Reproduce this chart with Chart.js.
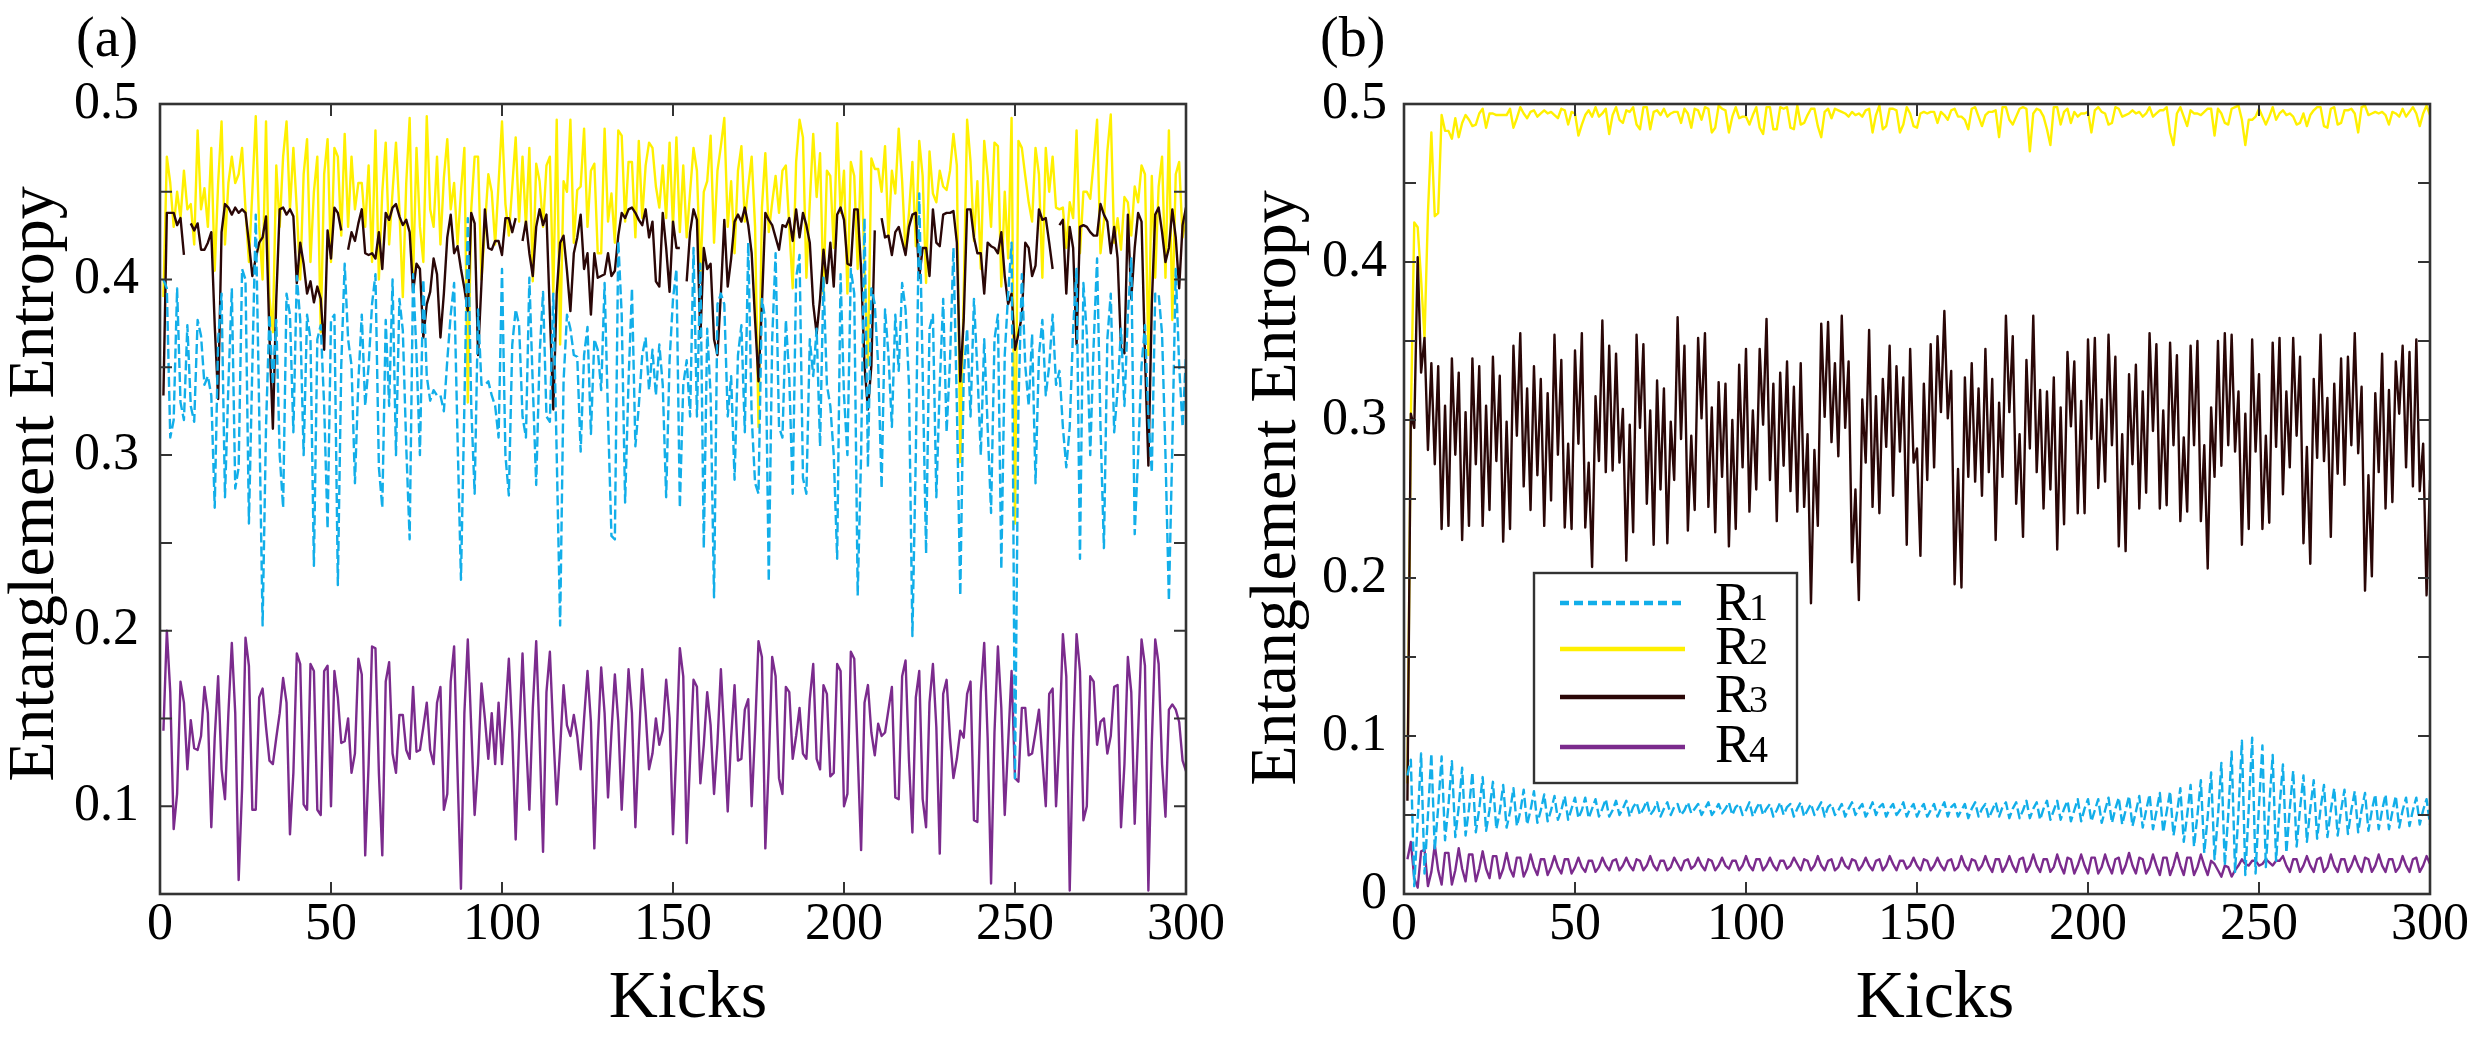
<!DOCTYPE html>
<html>
<head>
<meta charset="utf-8">
<script src="https://cdn.jsdelivr.net/npm/chart.js@4.4.1/dist/chart.umd.min.js"></script>
<style>
  html, body { margin: 0; padding: 0; background: #fff; }
  #wrap { position: relative; width: 2477px; height: 1038px; background: #fff; overflow: hidden; }
  canvas { position: absolute; top: 0; }
  #panelA { left: 0; }
  #panelB { left: 1240px; }
</style>
</head>
<body>
<div id="wrap">
  <canvas id="panelA" width="1240" height="1038"></canvas>
  <canvas id="panelB" width="1237" height="1038"></canvas>
</div>
<script>
// --- data (one value per kick, kick 1..300) ---
const seriesNames = ["R1", "R2", "R3", "R4"];
const xTicks = [0, 50, 100, 150, 200, 250, 300];
const yTicksA = [0.05, 0.1, 0.15, 0.2, 0.25, 0.3, 0.35, 0.4, 0.45, 0.5];
const yLabelsA = ["", "0.1", "", "0.2", "", "0.3", "", "0.4", "", "0.5"];
const yTicksB = [0, 0.05, 0.1, 0.15, 0.2, 0.25, 0.3, 0.35, 0.4, 0.45, 0.5];
const yLabelsB = ["0", "", "0.1", "", "0.2", "", "0.3", "", "0.4", "", "0.5"];

// panel (a)
const r1a = [
  0.40, 0.395, 0.31, 0.32, 0.395, 0.33, 0.32, 0.374, 0.328, 0.319,
  0.377, 0.368, 0.34, 0.345, 0.334, 0.27, 0.366, 0.392, 0.276, 0.34,
  0.395, 0.281, 0.293, 0.406, 0.40, 0.261, 0.351, 0.437, 0.325, 0.203,
  0.316, 0.38, 0.34, 0.377, 0.30, 0.27, 0.392, 0.38, 0.313, 0.402,
  0.377, 0.30, 0.38, 0.366, 0.237, 0.366, 0.374, 0.328, 0.258, 0.377,
  0.38, 0.226, 0.351, 0.409, 0.366, 0.351, 0.284, 0.342, 0.38, 0.328,
  0.351, 0.386, 0.403, 0.293, 0.27, 0.377, 0.328, 0.40, 0.30, 0.389,
  0.371, 0.305, 0.252, 0.403, 0.357, 0.30, 0.40, 0.345, 0.331, 0.337,
  0.334, 0.334, 0.325, 0.354, 0.38, 0.398, 0.31, 0.229, 0.328, 0.435,
  0.328, 0.278, 0.383, 0.34, 0.34, 0.342, 0.334, 0.328, 0.31, 0.406,
  0.30, 0.277, 0.363, 0.383, 0.374, 0.322, 0.31, 0.401, 0.34, 0.283,
  0.357, 0.393, 0.322, 0.319, 0.392, 0.30, 0.203, 0.342, 0.38, 0.372,
  0.357, 0.356, 0.302, 0.357, 0.373, 0.312, 0.366, 0.36, 0.337, 0.398,
  0.322, 0.254, 0.252, 0.422, 0.38, 0.273, 0.342, 0.395, 0.305, 0.328,
  0.357, 0.367, 0.337, 0.36, 0.334, 0.363, 0.34, 0.276, 0.354, 0.389,
  0.406, 0.27, 0.34, 0.354, 0.322, 0.418, 0.322, 0.409, 0.247, 0.372,
  0.334, 0.219, 0.386, 0.392, 0.386, 0.322, 0.345, 0.286, 0.357, 0.374,
  0.313, 0.421, 0.322, 0.284, 0.278, 0.389, 0.377, 0.228, 0.366, 0.415,
  0.316, 0.31, 0.377, 0.344, 0.278, 0.401, 0.414, 0.287, 0.278, 0.366,
  0.345, 0.372, 0.305, 0.401, 0.34, 0.328, 0.30, 0.241, 0.403, 0.334,
  0.30, 0.406, 0.392, 0.22, 0.30, 0.435, 0.293, 0.395, 0.386, 0.351,
  0.281, 0.383, 0.357, 0.316, 0.38, 0.348, 0.398, 0.383, 0.34, 0.197,
  0.30, 0.449, 0.348, 0.244, 0.372, 0.38, 0.276, 0.34, 0.389, 0.313,
  0.354, 0.418, 0.328, 0.22, 0.345, 0.372, 0.322, 0.389, 0.348, 0.30,
  0.366, 0.316, 0.267, 0.366, 0.38, 0.235, 0.357, 0.392, 0.421, 0.116,
  0.328, 0.403, 0.351, 0.328, 0.369, 0.284, 0.357, 0.377, 0.334, 0.351,
  0.38, 0.34, 0.348, 0.316, 0.293, 0.316, 0.372, 0.406, 0.241, 0.398,
  0.369, 0.30, 0.363, 0.412, 0.316, 0.247, 0.366, 0.392, 0.313, 0.337,
  0.372, 0.328, 0.38, 0.412, 0.255, 0.30, 0.351, 0.374, 0.322, 0.29,
  0.392, 0.392, 0.369, 0.30, 0.217, 0.305, 0.406, 0.351, 0.316, 0.357
];
const r2a = [
  0.39, 0.47, 0.455, 0.43, 0.45, 0.435, 0.462, 0.44, 0.443, 0.42,
  0.485, 0.44, 0.452, 0.43, 0.475, 0.405, 0.455, 0.49, 0.42, 0.455,
  0.47, 0.455, 0.46, 0.475, 0.44, 0.41, 0.45, 0.493, 0.43, 0.40,
  0.49, 0.39, 0.37, 0.465, 0.43, 0.47, 0.49, 0.44, 0.475, 0.44,
  0.40, 0.46, 0.48, 0.41, 0.45, 0.47, 0.37, 0.46, 0.48, 0.41,
  0.475, 0.47, 0.425, 0.483, 0.43, 0.47, 0.44, 0.455, 0.455, 0.43,
  0.465, 0.41, 0.485, 0.40, 0.45, 0.478, 0.42, 0.45, 0.478, 0.44,
  0.39, 0.455, 0.492, 0.40, 0.475, 0.43, 0.41, 0.493, 0.44, 0.43,
  0.47, 0.42, 0.458, 0.48, 0.44, 0.455, 0.42, 0.45, 0.475, 0.33,
  0.44, 0.47, 0.47, 0.40, 0.43, 0.46, 0.45, 0.42, 0.455, 0.49,
  0.443, 0.425, 0.453, 0.481, 0.433, 0.47, 0.43, 0.475, 0.399, 0.466,
  0.456, 0.43, 0.465, 0.47, 0.392, 0.491, 0.363, 0.456, 0.45, 0.491,
  0.421, 0.451, 0.453, 0.486, 0.43, 0.462, 0.466, 0.415, 0.415, 0.486,
  0.433, 0.449, 0.421, 0.485, 0.482, 0.433, 0.467, 0.467, 0.424, 0.479,
  0.435, 0.465, 0.478, 0.475, 0.453, 0.441, 0.465, 0.435, 0.478, 0.43,
  0.481, 0.427, 0.465, 0.424, 0.45, 0.475, 0.462, 0.403, 0.45, 0.456,
  0.482, 0.421, 0.462, 0.476, 0.492, 0.43, 0.456, 0.415, 0.462, 0.476,
  0.433, 0.453, 0.47, 0.43, 0.316, 0.441, 0.472, 0.427, 0.444, 0.459,
  0.438, 0.462, 0.465, 0.43, 0.395, 0.467, 0.491, 0.481, 0.401, 0.444,
  0.483, 0.447, 0.472, 0.392, 0.462, 0.459, 0.418, 0.489, 0.438, 0.462,
  0.392, 0.467, 0.459, 0.406, 0.473, 0.406, 0.351, 0.469, 0.463, 0.463,
  0.45, 0.476, 0.424, 0.462, 0.449, 0.486, 0.456, 0.415, 0.438, 0.467,
  0.419, 0.479, 0.459, 0.398, 0.473, 0.449, 0.444, 0.462, 0.453, 0.451,
  0.462, 0.483, 0.465, 0.296, 0.392, 0.491, 0.467, 0.422, 0.456, 0.406,
  0.479, 0.459, 0.43, 0.478, 0.476, 0.396, 0.45, 0.412, 0.492, 0.261,
  0.479, 0.475, 0.459, 0.444, 0.433, 0.475, 0.46, 0.401, 0.475, 0.45,
  0.47, 0.441, 0.44, 0.441, 0.418, 0.444, 0.435, 0.485, 0.415, 0.45,
  0.45, 0.446, 0.467, 0.491, 0.415, 0.433, 0.473, 0.494, 0.421, 0.435,
  0.417, 0.447, 0.444, 0.425, 0.453, 0.444, 0.465, 0.46, 0.357, 0.459,
  0.401, 0.453, 0.47, 0.401, 0.485, 0.377, 0.46, 0.467, 0.424, 0.435
];
const r3a = [
  0.334, 0.438, 0.438, 0.438, 0.431, 0.435, 0.414, null, 0.432, 0.428,
  0.432, 0.417, 0.417, 0.421, 0.427, 0.374, 0.332, 0.427, 0.443, 0.441,
  0.437, 0.441, 0.438, 0.440, 0.438, 0.421, 0.402, 0.412, 0.421, 0.424,
  0.436, 0.368, 0.315, 0.389, 0.440, 0.441, 0.437, 0.440, 0.436, 0.398,
  0.421, 0.409, 0.392, 0.399, 0.387, 0.396, 0.389, 0.360, 0.428, 0.412,
  0.441, 0.438, 0.428, null, 0.417, 0.427, 0.422, 0.432, 0.440, 0.415,
  0.414, 0.415, 0.412, 0.427, 0.406, 0.438, 0.434, 0.441, 0.443, 0.436,
  0.431, 0.434, 0.427, 0.393, 0.409, 0.406, 0.367, 0.386, 0.393, 0.412,
  0.403, 0.367, 0.392, 0.424, 0.437, 0.415, 0.419, 0.406, 0.395, 0.382,
  0.438, 0.432, 0.357, 0.398, 0.440, 0.418, 0.417, 0.422, 0.422, 0.414,
  0.435, 0.435, 0.427, 0.435, null, 0.422, 0.433, 0.415, 0.402, 0.430,
  0.440, 0.431, 0.437, 0.380, 0.326, 0.392, 0.421, 0.425, 0.405, 0.382,
  0.415, 0.424, 0.437, 0.406, 0.415, 0.380, 0.415, 0.401, 0.402, 0.403,
  0.415, 0.402, 0.405, 0.425, 0.438, 0.435, 0.440, 0.441, 0.438, 0.434,
  0.431, 0.440, 0.424, 0.433, 0.399, 0.396, 0.438, 0.418, 0.393, 0.433,
  0.418, 0.418, null, 0.399, 0.427, 0.440, 0.434, 0.367, 0.418, 0.406,
  0.409, 0.366, 0.357, 0.392, 0.434, 0.396, 0.412, 0.433, 0.437, 0.433,
  0.441, 0.431, 0.415, 0.377, 0.342, 0.386, 0.438, 0.434, 0.431, 0.424,
  0.417, 0.431, 0.430, 0.435, 0.422, 0.440, 0.424, 0.438, 0.431, 0.421,
  0.386, 0.369, 0.389, 0.417, 0.398, 0.421, 0.396, 0.437, 0.441, 0.434,
  0.409, 0.408, 0.440, 0.440, 0.406, 0.351, 0.326, 0.351, 0.428, null,
  0.435, 0.424, 0.425, 0.414, 0.427, 0.430, 0.422, 0.414, 0.430, 0.437,
  0.438, 0.401, 0.418, 0.418, 0.402, 0.440, 0.421, 0.419, 0.437, 0.438,
  0.438, 0.439, 0.421, 0.342, 0.377, 0.440, 0.440, 0.424, 0.415, 0.415,
  0.392, 0.421, 0.419, 0.418, 0.415, 0.427, 0.402, 0.386, 0.392, 0.360,
  0.369, 0.379, 0.421, 0.418, 0.402, 0.408, 0.440, 0.434, 0.435, 0.421,
  0.406, null, 0.431, 0.434, 0.392, 0.430, 0.418, 0.363, 0.430, 0.431,
  0.430, 0.427, 0.425, 0.425, 0.443, 0.437, 0.433, 0.415, 0.430, 0.412,
  0.361, 0.358, 0.437, 0.389, 0.418, 0.438, 0.433, 0.357, 0.294, 0.386,
  0.437, 0.441, 0.427, 0.410, 0.418, 0.440, 0.424, 0.395, 0.431, 0.441
];
const r4a = [
  0.143, 0.200, 0.165, 0.087, 0.107, 0.171, 0.159, 0.121, 0.149, 0.133,
  0.132, 0.140, 0.168, 0.153, 0.088, 0.139, 0.174, 0.121, 0.104, 0.153,
  0.193, 0.153, 0.058, 0.110, 0.196, 0.180, 0.098, 0.098, 0.162, 0.167,
  0.145, 0.126, 0.124, 0.139, 0.153, 0.173, 0.159, 0.084, 0.119, 0.187,
  0.181, 0.101, 0.098, 0.181, 0.177, 0.098, 0.095, 0.177, 0.180, 0.100,
  0.177, 0.162, 0.136, 0.137, 0.150, 0.119, 0.130, 0.184, 0.175, 0.072,
  0.124, 0.191, 0.190, 0.119, 0.072, 0.171, 0.182, 0.130, 0.119, 0.152,
  0.152, 0.132, 0.127, 0.168, 0.131, 0.132, 0.145, 0.159, 0.132, 0.124,
  0.159, 0.168, 0.098, 0.107, 0.171, 0.191, 0.119, 0.053, 0.153, 0.195,
  0.145, 0.095, 0.124, 0.170, 0.150, 0.127, 0.153, 0.124, 0.159, 0.124,
  0.153, 0.184, 0.142, 0.081, 0.139, 0.187, 0.139, 0.098, 0.156, 0.194,
  0.139, 0.074, 0.165, 0.188, 0.142, 0.101, 0.133, 0.169, 0.146, 0.140,
  0.152, 0.140, 0.121, 0.150, 0.177, 0.148, 0.076, 0.136, 0.179, 0.153,
  0.105, 0.142, 0.175, 0.148, 0.098, 0.139, 0.178, 0.153, 0.088, 0.136,
  0.178, 0.153, 0.121, 0.130, 0.150, 0.135, 0.143, 0.172, 0.150, 0.084,
  0.133, 0.190, 0.174, 0.079, 0.127, 0.172, 0.168, 0.113, 0.135, 0.165,
  0.146, 0.107, 0.136, 0.178, 0.140, 0.097, 0.139, 0.169, 0.126, 0.127,
  0.155, 0.161, 0.100, 0.143, 0.194, 0.185, 0.076, 0.124, 0.185, 0.174,
  0.116, 0.107, 0.168, 0.165, 0.127, 0.140, 0.156, 0.130, 0.127, 0.161,
  0.181, 0.127, 0.121, 0.169, 0.164, 0.117, 0.119, 0.181, 0.177, 0.100,
  0.107, 0.188, 0.184, 0.130, 0.075, 0.159, 0.169, 0.142, 0.129, 0.147,
  0.140, 0.142, 0.155, 0.168, 0.105, 0.104, 0.174, 0.183, 0.126, 0.085,
  0.162, 0.177, 0.104, 0.088, 0.159, 0.181, 0.145, 0.073, 0.164, 0.172,
  0.139, 0.116, 0.127, 0.143, 0.139, 0.164, 0.171, 0.092, 0.091, 0.165,
  0.193, 0.139, 0.056, 0.142, 0.191, 0.156, 0.095, 0.136, 0.177, 0.116,
  0.114, 0.156, 0.156, 0.129, 0.130, 0.142, 0.155, 0.127, 0.100, 0.164,
  0.167, 0.100, 0.140, 0.198, 0.174, 0.052, 0.139, 0.198, 0.177, 0.092,
  0.100, 0.174, 0.171, 0.135, 0.148, 0.150, 0.130, 0.140, 0.168, 0.169,
  0.088, 0.124, 0.185, 0.165, 0.090, 0.142, 0.195, 0.180, 0.052, 0.136,
  0.195, 0.181, 0.124, 0.094, 0.155, 0.158, 0.155, 0.148, 0.126, 0.120
];

// panel (b)
const r1b = [
  0.075,
  0.085, 0.005, 0.046, 0.089, 0.013, 0.050, 0.089, 0.028, 0.055,
  0.087, 0.034, 0.056, 0.084, 0.036, 0.055, 0.080, 0.037, 0.054,
  0.077, 0.039, 0.054, 0.074, 0.040, 0.053, 0.071, 0.041, 0.052,
  0.069, 0.042, 0.052, 0.067, 0.043, 0.052, 0.066, 0.044, 0.053,
  0.065, 0.045, 0.053, 0.063, 0.046, 0.053, 0.062, 0.047, 0.053,
  0.062, 0.047, 0.054, 0.061, 0.048, 0.053, 0.061, 0.048, 0.054,
  0.060, 0.049, 0.054, 0.060, 0.049, 0.053, 0.059, 0.050, 0.054,
  0.059, 0.049, 0.055, 0.058, 0.050, 0.054, 0.059, 0.050, 0.053,
  0.058, 0.049, 0.054, 0.058, 0.050, 0.055, 0.057, 0.050, 0.053,
  0.058, 0.051, 0.054, 0.057, 0.050, 0.054, 0.058, 0.050, 0.053,
  0.057, 0.051, 0.054, 0.058, 0.050, 0.055, 0.057, 0.050, 0.053,
  0.058, 0.049, 0.054, 0.058, 0.050, 0.054, 0.057, 0.049, 0.053,
  0.058, 0.050, 0.055, 0.057, 0.049, 0.054, 0.058, 0.049, 0.053,
  0.057, 0.050, 0.054, 0.058, 0.049, 0.055, 0.057, 0.050, 0.053,
  0.057, 0.049, 0.054, 0.058, 0.050, 0.054, 0.057, 0.049, 0.053,
  0.058, 0.050, 0.055, 0.057, 0.049, 0.054, 0.057, 0.050, 0.053,
  0.058, 0.049, 0.054, 0.057, 0.049, 0.054, 0.057, 0.049, 0.053,
  0.057, 0.049, 0.054, 0.058, 0.049, 0.055, 0.057, 0.049, 0.053,
  0.057, 0.048, 0.054, 0.058, 0.049, 0.054, 0.057, 0.048, 0.053,
  0.058, 0.049, 0.055, 0.058, 0.048, 0.054, 0.058, 0.048, 0.053,
  0.059, 0.048, 0.054, 0.058, 0.047, 0.054, 0.059, 0.047, 0.053,
  0.059, 0.047, 0.054, 0.059, 0.046, 0.053, 0.060, 0.046, 0.054,
  0.060, 0.046, 0.053, 0.060, 0.045, 0.053, 0.061, 0.045, 0.054,
  0.061, 0.044, 0.053, 0.062, 0.043, 0.052, 0.062, 0.042, 0.053,
  0.063, 0.041, 0.052, 0.064, 0.039, 0.052, 0.065, 0.037, 0.051,
  0.067, 0.033, 0.050, 0.069, 0.030, 0.050, 0.072, 0.026, 0.049,
  0.077, 0.022, 0.049, 0.083, 0.018, 0.050, 0.090, 0.014, 0.052,
  0.097, 0.012, 0.054, 0.099, 0.013, 0.056, 0.094, 0.017, 0.056,
  0.088, 0.021, 0.055, 0.082, 0.026, 0.054, 0.078, 0.030, 0.054,
  0.075, 0.033, 0.054, 0.072, 0.035, 0.054, 0.069, 0.036, 0.053,
  0.067, 0.037, 0.053, 0.066, 0.038, 0.053, 0.065, 0.039, 0.053,
  0.064, 0.040, 0.053, 0.063, 0.041, 0.053, 0.063, 0.041, 0.052,
  0.062, 0.042, 0.053, 0.061, 0.043, 0.053, 0.061, 0.044, 0.053,
  0.060, 0.044
];
const r2b = [
  0.07, 0.30,
  0.425, 0.422, 0.389, 0.352, 0.431, 0.482, 0.429, 0.431, 0.493, 0.483,
  0.483, 0.478, 0.491, 0.479, 0.488, 0.493, 0.49, 0.486, 0.487, 0.494,
  0.497, 0.485, 0.494, 0.494, 0.493, 0.493, 0.493, 0.493, 0.497, 0.485,
  0.491, 0.498, 0.494, 0.491, 0.495, 0.496, 0.492, 0.494, 0.496, 0.494,
  0.495, 0.493, 0.491, 0.497, 0.496, 0.487, 0.495, 0.494, 0.48, 0.487,
  0.493, 0.496, 0.492, 0.498, 0.492, 0.494, 0.497, 0.481, 0.493, 0.498,
  0.49, 0.488, 0.496, 0.495, 0.498, 0.487, 0.484, 0.498, 0.498, 0.484,
  0.495, 0.496, 0.493, 0.497, 0.492, 0.494, 0.495, 0.495, 0.488, 0.497,
  0.494, 0.485, 0.497, 0.496, 0.49, 0.498, 0.497, 0.482, 0.485, 0.499,
  0.497, 0.496, 0.482, 0.492, 0.498, 0.491, 0.492, 0.492, 0.487, 0.493,
  0.498, 0.485, 0.481, 0.498, 0.498, 0.484, 0.484, 0.498, 0.497, 0.498,
  0.485, 0.484, 0.499, 0.487, 0.488, 0.493, 0.497, 0.497, 0.486, 0.479,
  0.495, 0.497, 0.491, 0.497, 0.496, 0.495, 0.494, 0.492, 0.495, 0.493,
  0.494, 0.492, 0.496, 0.497, 0.482, 0.493, 0.499, 0.484, 0.486, 0.497,
  0.497, 0.496, 0.482, 0.487, 0.498, 0.494, 0.486,
  0.485, 0.494, 0.495, 0.494, 0.495, 0.495, 0.488, 0.495, 0.493, 0.49,
  0.496, 0.497, 0.492, 0.492, 0.49, 0.484, 0.497, 0.498, 0.492, 0.486,
  0.493, 0.495, 0.495, 0.496, 0.479, 0.498, 0.498, 0.49, 0.487, 0.492,
  0.497, 0.498, 0.497, 0.47, 0.494, 0.497, 0.496, 0.492, 0.484, 0.474,
  0.498, 0.498, 0.487, 0.495, 0.497, 0.488, 0.495, 0.492, 0.494, 0.494,
  0.495, 0.482, 0.496, 0.498, 0.495, 0.494, 0.487, 0.488, 0.498, 0.497,
  0.492, 0.493, 0.494, 0.496, 0.494, 0.495, 0.492, 0.494, 0.498, 0.492,
  0.494, 0.496, 0.496, 0.498, 0.482, 0.474, 0.494, 0.498, 0.492, 0.486,
  0.496, 0.494, 0.494, 0.493, 0.495, 0.497, 0.497, 0.48, 0.497, 0.494,
  0.488, 0.487, 0.497, 0.498, 0.499, 0.49, 0.474, 0.49, 0.49, 0.492,
  0.497, 0.492, 0.487, 0.492, 0.498, 0.49, 0.494, 0.496, 0.493, 0.494,
  0.492, 0.487, 0.488, 0.494, 0.486, 0.493, 0.496, 0.498, 0.498, 0.486,
  0.485, 0.497, 0.498, 0.487, 0.488, 0.496, 0.496, 0.497, 0.494, 0.482,
  0.498, 0.499, 0.493, 0.494, 0.495, 0.494, 0.495, 0.493, 0.487, 0.495,
  0.494, 0.492, 0.497, 0.492, 0.495, 0.498, 0.494, 0.486, 0.494, 0.499,
  0.493
];
const r3b = [
  0.059,
  0.304, 0.295, 0.403, 0.33, 0.352, 0.281, 0.336, 0.272, 0.334, 0.231,
  0.309, 0.233, 0.339, 0.278, 0.33, 0.224, 0.305, 0.233, 0.339, 0.272,
  0.334, 0.233, 0.309, 0.243, 0.34, 0.274, 0.328, 0.223, 0.299, 0.231,
  0.347, 0.29, 0.355, 0.258, 0.32, 0.243, 0.334, 0.265, 0.326, 0.233,
  0.317, 0.249, 0.354, 0.278, 0.338, 0.232, 0.285, 0.231, 0.344, 0.285,
  0.355, 0.232, 0.273, 0.207, 0.315, 0.274, 0.363, 0.267, 0.347, 0.268,
  0.342, 0.273, 0.307, 0.211, 0.297, 0.229, 0.354, 0.295, 0.348, 0.247,
  0.306, 0.221, 0.325, 0.256, 0.32, 0.222, 0.299, 0.262, 0.365, 0.288,
  0.347, 0.23, 0.29, 0.243, 0.352, 0.301, 0.355, 0.245, 0.308, 0.229,
  0.324, 0.264, 0.323, 0.22, 0.3, 0.231, 0.335, 0.27, 0.345, 0.242,
  0.306, 0.256, 0.345, 0.297, 0.364, 0.262, 0.323, 0.236, 0.33, 0.271,
  0.337, 0.255, 0.321, 0.242, 0.336, 0.245, 0.291, 0.184, 0.281, 0.233,
  0.361, 0.302, 0.362, 0.286, 0.336, 0.277, 0.366, 0.295, 0.337, 0.21,
  0.256, 0.186, 0.313, 0.273, 0.357, 0.245, 0.315, 0.241, 0.326, 0.283,
  0.347, 0.252, 0.334, 0.28, 0.327, 0.221, 0.345, 0.273,
  0.282, 0.214, 0.323, 0.262, 0.348, 0.27, 0.353, 0.305, 0.369, 0.301,
  0.331, 0.196, 0.269, 0.194, 0.327, 0.264, 0.336, 0.261, 0.32, 0.252,
  0.345, 0.267, 0.326, 0.224, 0.311, 0.264, 0.366, 0.305, 0.353, 0.247,
  0.291, 0.226, 0.338, 0.282, 0.366, 0.267, 0.319, 0.244, 0.318, 0.256,
  0.327, 0.218, 0.308, 0.234, 0.343, 0.296, 0.337, 0.241, 0.312, 0.241,
  0.351, 0.288, 0.352, 0.257, 0.313, 0.261, 0.354, 0.284, 0.34, 0.22,
  0.291, 0.217, 0.329, 0.272, 0.335, 0.244, 0.318, 0.254, 0.355, 0.293,
  0.348, 0.244, 0.306, 0.246, 0.349, 0.284, 0.341, 0.236, 0.289, 0.242,
  0.347, 0.284, 0.35, 0.236, 0.284, 0.206, 0.308, 0.264, 0.35, 0.271,
  0.355, 0.284, 0.354, 0.28, 0.318, 0.221, 0.304, 0.231, 0.351, 0.28,
  0.329, 0.231, 0.29, 0.235, 0.349, 0.283, 0.352, 0.253, 0.318, 0.27,
  0.352, 0.29, 0.34, 0.222, 0.283, 0.209, 0.326, 0.276, 0.354, 0.274,
  0.314, 0.226, 0.323, 0.266, 0.339, 0.259, 0.34, 0.284, 0.355, 0.279,
  0.321, 0.192, 0.265, 0.201, 0.317, 0.267, 0.342, 0.244, 0.319, 0.248,
  0.337, 0.304, 0.347, 0.27, 0.343, 0.258, 0.351, 0.255, 0.285, 0.189,
  0.262
];
const r4b = [
  0.022,
  0.033, 0.010, 0.004, 0.027, 0.028, 0.005, 0.014,
  0.031, 0.015, 0.006, 0.026, 0.026, 0.006, 0.015,
  0.029, 0.016, 0.008, 0.025, 0.025, 0.008, 0.016,
  0.027, 0.016, 0.010, 0.024, 0.024, 0.010, 0.016,
  0.026, 0.016, 0.011, 0.023, 0.023, 0.011, 0.016,
  0.025, 0.017, 0.012, 0.022, 0.022, 0.012, 0.017,
  0.024, 0.017, 0.013, 0.022, 0.022, 0.013, 0.017,
  0.023, 0.017, 0.014, 0.021, 0.021, 0.014, 0.017,
  0.023, 0.018, 0.015, 0.021, 0.022, 0.015, 0.018,
  0.023, 0.018, 0.015, 0.022, 0.021, 0.015, 0.018,
  0.024, 0.018, 0.015, 0.021, 0.021, 0.015, 0.017,
  0.023, 0.019, 0.015, 0.021, 0.022, 0.016, 0.018,
  0.023, 0.018, 0.015, 0.022, 0.021, 0.015, 0.018,
  0.023, 0.018, 0.016, 0.021, 0.021, 0.015, 0.018,
  0.024, 0.018, 0.015, 0.022, 0.022, 0.015, 0.018,
  0.023, 0.018, 0.015, 0.021, 0.021, 0.016, 0.018,
  0.023, 0.019, 0.015, 0.022, 0.021, 0.015, 0.018,
  0.024, 0.018, 0.015, 0.021, 0.022, 0.015, 0.017,
  0.023, 0.018, 0.016, 0.022, 0.021, 0.015, 0.018,
  0.023, 0.018, 0.015, 0.021, 0.022, 0.015, 0.018,
  0.024, 0.019, 0.015, 0.021, 0.021, 0.016, 0.018,
  0.023, 0.018, 0.015, 0.022, 0.021, 0.015, 0.018,
  0.023, 0.018, 0.015, 0.021, 0.022, 0.015, 0.017,
  0.024, 0.018, 0.015, 0.022, 0.021, 0.015, 0.018,
  0.024, 0.018, 0.014, 0.022, 0.022, 0.014, 0.018,
  0.024, 0.018, 0.014, 0.022, 0.023, 0.014, 0.018,
  0.025, 0.018, 0.014, 0.022, 0.022, 0.014, 0.017,
  0.025, 0.018, 0.013, 0.023, 0.022, 0.013, 0.018,
  0.025, 0.018, 0.013, 0.023, 0.023, 0.013, 0.017,
  0.025, 0.018, 0.013, 0.022, 0.023, 0.013, 0.018,
  0.026, 0.018, 0.013, 0.023, 0.022, 0.013, 0.017,
  0.025, 0.018, 0.012, 0.023, 0.023, 0.012, 0.018,
  0.026, 0.018, 0.012, 0.023, 0.023, 0.012, 0.017,
  0.025, 0.018, 0.012, 0.021,
  0.019, 0.015, 0.011, 0.018, 0.017, 0.011, 0.015, 0.018,
  0.022, 0.019, 0.018, 0.021, 0.021, 0.018, 0.019, 0.022, 0.020, 0.018, 0.021, 0.021,
  0.024, 0.018, 0.014, 0.022, 0.022, 0.014, 0.018,
  0.024, 0.018, 0.014, 0.022, 0.023, 0.014, 0.017,
  0.025, 0.018, 0.014, 0.022, 0.022, 0.014, 0.018,
  0.024, 0.018, 0.014, 0.023, 0.022, 0.014, 0.018,
  0.025, 0.018, 0.014, 0.022, 0.022, 0.014, 0.017,
  0.024, 0.018, 0.014, 0.022, 0.023, 0.014, 0.018,
  0.024, 0.019
];

// --- styles ---
const FONT = '"Liberation Serif", "Times New Roman", serif';
const colors = { R1: "#12aee9", R2: "#fff000", R3: "#2a0707", R4: "#7b2b8d" };
const axisColor = "#333";

function toPoints(arr) {
  return arr.map((v, i) => ({ x: i + 1, y: v }));
}

function makeDatasets(r1, r2, r3, r4) {
  const common = { pointRadius: 0, borderWidth: 2.4, tension: 0, spanGaps: false, borderJoinStyle: "round", fill: false };
  return [
    { ...common, label: seriesNames[0], data: toPoints(r1), borderColor: colors.R1, borderDash: [10, 4], order: 0 },
    { ...common, label: seriesNames[1], data: toPoints(r2), borderColor: colors.R2, order: 3 },
    { ...common, label: seriesNames[2], data: toPoints(r3), borderColor: colors.R3, order: 2 },
    { ...common, label: seriesNames[3], data: toPoints(r4), borderColor: colors.R4, order: 1 },
  ];
}

// frame, inward ticks on all four sides, titles and panel letter
function framePlugin(cfg) {
  return {
    id: "frame",
    afterDraw(chart) {
      const { ctx, chartArea: a, scales } = chart;
      const x = scales.x, y = scales.y;
      ctx.save();
      ctx.strokeStyle = axisColor;
      ctx.lineWidth = 2;
      ctx.beginPath();
      x.ticks.forEach((t) => {
        const px = x.getPixelForValue(t.value);
        ctx.moveTo(px, a.bottom); ctx.lineTo(px, a.bottom - 12);
        ctx.moveTo(px, a.top); ctx.lineTo(px, a.top + 12);
      });
      y.ticks.forEach((t) => {
        const py = y.getPixelForValue(t.value);
        ctx.moveTo(a.left, py); ctx.lineTo(a.left + 12, py);
        ctx.moveTo(a.right, py); ctx.lineTo(a.right - 12, py);
      });
      ctx.stroke();
      ctx.lineWidth = 2.6;
      ctx.strokeRect(a.left, a.top, a.right - a.left, a.bottom - a.top);

      ctx.fillStyle = "#000";
      // panel letter
      ctx.font = "56px " + FONT;
      ctx.textAlign = "left";
      ctx.textBaseline = "alphabetic";
      ctx.fillText(cfg.letter, cfg.letterX, 56);
      // x title
      ctx.font = "68px " + FONT;
      ctx.textAlign = "center";
      ctx.fillText("Kicks", cfg.xTitleX, 1017);
      // y title
      ctx.save();
      ctx.translate(cfg.yTitleX, cfg.yTitleY);
      ctx.rotate(-Math.PI / 2);
      ctx.font = "66px " + FONT;
      ctx.textBaseline = "middle";
      ctx.fillText("Entanglement Entropy", 0, 0);
      ctx.restore();
      ctx.restore();
    },
  };
}

// legend box inside panel (b)
const legendPlugin = {
  id: "boxLegend",
  afterDraw(chart) {
    const ctx = chart.ctx;
    const ox = 1534 - 1240, oy = 573, w = 263, h = 210;
    ctx.save();
    ctx.fillStyle = "#fff";
    ctx.fillRect(ox, oy, w, h);
    ctx.strokeStyle = axisColor;
    ctx.lineWidth = 2.4;
    ctx.strokeRect(ox, oy, w, h);
    const baselines = [620, 664, 712, 762];
    const lineYs = [603, 649, 697, 747];
    chart.data.datasets.forEach((ds, i) => {
      ctx.beginPath();
      ctx.strokeStyle = ds.borderColor;
      ctx.lineWidth = 4.5;
      ctx.setLineDash(ds.borderDash ? [9, 5] : []);
      ctx.moveTo(ox + 26, lineYs[i]);
      ctx.lineTo(ox + 151, lineYs[i]);
      ctx.stroke();
      ctx.setLineDash([]);
      ctx.fillStyle = "#000";
      ctx.textAlign = "left";
      ctx.textBaseline = "alphabetic";
      ctx.font = "54px " + FONT;
      ctx.fillText("R", ox + 181, baselines[i]);
      const rw = ctx.measureText("R").width;
      ctx.font = "38px " + FONT;
      ctx.fillText(String(i + 1), ox + 181 + rw - 2, baselines[i]);
    });
    ctx.restore();
  },
};

function makeChart(canvasId, datasets, yMin, yTicks, yLabels, axisWidth, labelPad, padRight, frameCfg, extraPlugins) {
  return new Chart(document.getElementById(canvasId), {
    type: "line",
    data: { datasets },
    options: {
      responsive: false,
      animation: false,
      devicePixelRatio: 1,
      layout: { padding: { left: 0, right: padRight, top: 104, bottom: 0 } },
      plugins: { legend: { display: false }, tooltip: { enabled: false } },
      scales: {
        x: {
          type: "linear",
          min: 0,
          max: 300,
          grid: { display: false, drawTicks: false },
          border: { display: false },
          afterBuildTicks: (s) => { s.ticks = xTicks.map((v) => ({ value: v })); },
          afterFit: (s) => { s.height = 144; },
          ticks: {
            font: { family: FONT, size: 52 },
            color: "#000",
            padding: 0,
            maxRotation: 0,
            autoSkip: false,
            callback: (v) => String(v),
          },
        },
        y: {
          type: "linear",
          min: yMin,
          max: 0.5,
          grid: { display: false, drawTicks: false },
          border: { display: false },
          afterBuildTicks: (s) => { s.ticks = yTicks.map((v) => ({ value: v })); },
          afterFit: (s) => { s.width = axisWidth; },
          ticks: {
            font: { family: FONT, size: 52 },
            color: "#000",
            padding: labelPad,
            autoSkip: false,
            callback: (v, i) => yLabels[i],
          },
        },
      },
    },
    plugins: [framePlugin(frameCfg)].concat(extraPlugins || []),
  });
}

makeChart("panelA", makeDatasets(r1a, r2a, r3a, r4a), 0.05, yTicksA, yLabelsA, 160, 21, 54,
  { letter: "(a)", letterX: 76, xTitleX: 688, yTitleX: 36, yTitleY: 484 });

makeChart("panelB", makeDatasets(r1b, r2b, r3b, r4b), 0, yTicksB, yLabelsB, 164, 17, 47,
  { letter: "(b)", letterX: 1320 - 1240, xTitleX: 1935 - 1240, yTitleX: 1278 - 1240, yTitleY: 488 },
  [legendPlugin]);
</script>
</body>
</html>
